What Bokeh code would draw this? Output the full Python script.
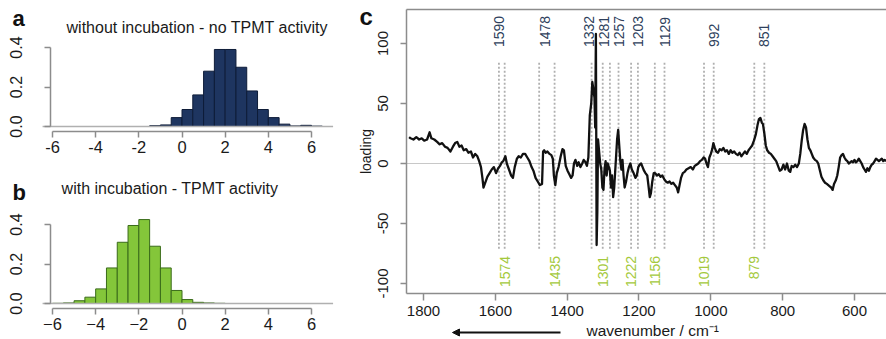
import math
from bokeh.plotting import figure
from bokeh.models import (Range1d, Arrow, NormalHead, LinearAxis,
                          FixedTicker, ColumnDataSource, NumeralTickFormatter)
from bokeh.layouts import row, column
from bokeh.embed import file_html
from bokeh.resources import INLINE
from bokeh.core.properties import value

FONT = "Liberation Sans"

# ---------------- data ----------------
hist_ticks = [-6, -4, -2, 0, 2, 4, 6]
a_edges = [-1.5, -1.0, -0.5, 0.0, 0.5, 1.0, 1.5, 2.0, 2.5, 3.0, 3.5, 4.0, 4.5, 5.0, 5.5, 6.0, 6.5]
a_density = [0.004, 0.008, 0.045, 0.086, 0.16, 0.28, 0.39, 0.39, 0.30, 0.18, 0.086, 0.045, 0.012, 0.003, 0.006, 0.002]
b_edges = [-6.0, -5.5, -5.0, -4.5, -4.0, -3.5, -3.0, -2.5, -2.0, -1.5, -1.0, -0.5, 0.0, 0.5, 1.0, 1.5, 2.0]
b_density = [0.001, 0.003, 0.014, 0.032, 0.074, 0.18, 0.31, 0.395, 0.425, 0.29, 0.18, 0.066, 0.02, 0.006, 0.003, 0.001]
dens_ticks = [0.0, 0.2, 0.4]

wavenumber = [1840, 1836, 1828, 1820, 1812, 1805, 1798, 1790, 1783, 1778, 1770, 1762, 1755, 1748, 1740,
              1733, 1725, 1718, 1712, 1706, 1700, 1694, 1688, 1681, 1675, 1668, 1662, 1656, 1650, 1645,
              1640, 1636, 1633, 1628, 1622, 1616, 1610, 1604, 1598, 1592, 1587, 1582, 1578, 1572, 1568,
              1562, 1556, 1551, 1546, 1540, 1535, 1529, 1523, 1517, 1511, 1505, 1499, 1494, 1488, 1482,
              1476, 1470, 1467, 1464, 1460, 1455, 1449, 1444, 1440, 1437, 1433, 1429, 1424, 1418, 1413,
              1409, 1404, 1399, 1394, 1389, 1385, 1381, 1377, 1372, 1368, 1363, 1358, 1354, 1349, 1345,
              1341, 1337, 1333, 1330, 1327, 1324, 1322, 1320, 1318, 1316, 1314, 1311, 1308, 1305, 1302,
              1299, 1296, 1293, 1290, 1287, 1284, 1281, 1278, 1275, 1272, 1269, 1265, 1261, 1258, 1255,
              1252, 1249, 1246, 1243, 1240, 1236, 1232, 1228, 1224, 1220, 1215, 1210, 1206, 1202, 1198,
              1194, 1190, 1186, 1182, 1177, 1173, 1170, 1167, 1163, 1159, 1155, 1150, 1145, 1140, 1135,
              1130, 1125, 1120, 1115, 1110, 1105, 1100, 1095, 1091, 1087, 1083, 1078, 1073, 1068, 1062,
              1056, 1050, 1045, 1040, 1035, 1030, 1025, 1020, 1016, 1012, 1008, 1004, 1000, 996, 993,
              989, 985, 980, 975, 970, 965, 960, 955, 950, 945, 940, 935, 930, 925, 920,
              915, 910, 905, 900, 895, 890, 885, 880, 875, 870, 866, 862, 858, 855, 851,
              847, 843, 838, 833, 828, 823, 818, 813, 808, 803, 798, 793, 788, 783, 779,
              775, 770, 765, 760, 755, 751, 747, 743, 739, 735, 731, 727, 723, 719, 715,
              710, 705, 701, 697, 692, 687, 682, 677, 673, 669, 665, 661, 657, 652, 648,
              644, 640, 636, 632, 628, 624, 620, 616, 612, 608, 604, 600, 596, 592, 588,
              584, 580, 576, 572, 568, 564, 560, 556, 552, 548, 544, 540, 536, 532, 528,
              524, 520, 516, 512]
loading = [22, 21, 20, 22, 20, 21, 19, 20, 26, 21, 20, 18, 16, 17, 14,
           13, 10, 14, 17, 18, 14, 15, 11, 12, 9, 10, 5, 8, 6, 2,
           -3, -12, -20, -16, -11, -8, -5, -3, -8, -4, -2, 1, 2, 6, 0,
           -5, -10, -12, -3, 4, 6, 5, 8, 8, 5, 2, -3, -6, -12, -15,
           -18, -17, 10, 11, 9, 10, 8, 7, 4, -10, -18, -8, -3, 6, 12,
           11, -2, -6, -9, -12, -10, 0, 3, -2, 1, -3, 0, 3, 1, -2,
           5, 40, 50, 68, 62, 55, 30, 108, -68, -40, 20, 10, 0, -5, -20,
           -22, -5, 2, -10, 0, -3, -6, -20, -10, -28, -20, 0, 20, 28, 15,
           2, -5, 3, -10, -20, -15, -8, -3, 0, -5, -8, -12, -10, -3, -1,
           0, -3, -6, -8, -10, -20, -28, -25, -15, -8, -8, -10, -9, -11, -10,
           -13, -15, -16, -15, -17, -16, -18, -20, -24, -18, -12, -8, -7, -5, -4,
           -3, -5, -2, -1, 0, 2, 3, 5, 4, 0, -3, 5, 8, 12, 17,
           13, 10, 9, 12, 11, 13, 10, 11, 8, 11, 9, 10, 8, 7, 9,
           6, 8, 10, 8, 11, 13, 15, 19, 24, 32, 37, 38, 34, 33, 25,
           15, 11, 9, 8, 6, 4, 2, -2, -6, -5, -1, -5, 0, -6, -7,
           -2, -3, -1, -3, 0, 8, 19, 28, 33, 30, 20, 13, 11, 8, 5,
           3, 2, 0, -5, -11, -14, -16, -17, -18, -19, -20, -22, -17, -14, -10,
           -3, 5, 7, 8, 5, 3, 2, 0, 1, 2, 1, 3, 1, 2, 4,
           2, 0, -3, -5, -7, -4, -6, -3, -1, 0, 2, 4, 3, 2, 3,
           4, 2, 3, 2]

top_bands = [1590, 1478, 1332, 1281, 1257, 1203, 1129, 992, 851]
bottom_bands = [1574, 1435, 1301, 1222, 1156, 1019, 879]
wn_ticks = [1800, 1600, 1400, 1200, 1000, 800, 600]
loading_ticks = [-100, -50, 0, 50, 100]

# ---------------- layout / style constants ----------------
top_label_dx = [0, 6, -3, -6, 0, 0, 0, 0, 0]   # small pixel nudges to keep labels apart
AXIS_GRAY = "#8c8c8c"
NAVY = "#1e3560"
NAVY_LINE = "#0e1c38"
GREEN = "#84c63a"
GREEN_LINE = "#3a6b1a"
TOP_COL = "#2e3f5c"
BOT_COL = "#a4c93c"
TXT = "#1a1a1a"

H_PPU = 197.5          # pixels per density unit (hist panels)
H_XPPU = 21.58         # pixels per x unit (hist panels)
H_YAXIS_X = -6.09      # y axis position in hist panels
H_BASE = (-6.46, 7.0)  # extent of grey base line


def style_axis(ax, tick_out, standoff, size="15px"):
    ax.axis_line_color = AXIS_GRAY
    ax.axis_line_width = 1.5
    ax.major_tick_line_color = AXIS_GRAY
    ax.major_tick_line_width = 1.5
    ax.major_tick_out = tick_out
    ax.major_tick_in = 0
    ax.minor_tick_line_color = None
    ax.major_label_standoff = standoff
    ax.major_label_text_font = FONT
    ax.major_label_text_font_size = size
    ax.major_label_text_color = TXT


def new_fig(w, h, xr, yr):
    p = figure(width=w, height=h, output_backend="svg", toolbar_location=None,
               x_range=Range1d(*xr), y_range=Range1d(*yr),
               x_axis_location=None, y_axis_location=None,
               min_border_left=0, min_border_right=0, min_border_top=0, min_border_bottom=0)
    p.grid.visible = False
    p.outline_line_color = None
    p.background_fill_color = "white"
    p.border_fill_color = "white"
    return p


def hist_panel(edges, dens, fill, line, title, letter, height, zero_px, title_x, title_y,
               letter_y, hyphen):
    # whole canvas is the frame; axes are drawn at fixed data locations
    p = new_fig(340, height,
                (-6 - 52 / H_XPPU, 6 + 29 / H_XPPU),
                (-(height - zero_px) / H_PPU, zero_px / H_PPU))
    src = ColumnDataSource(dict(left=edges[:-1], right=edges[1:], top=dens))
    p.quad(left="left", right="right", bottom=0, top="top", source=src,
           fill_color=fill, line_color=line, line_width=1)
    p.segment(x0=H_BASE[0], x1=H_BASE[1], y0=0, y1=0, line_color="#b0b0b0", line_width=1.5)

    xa = LinearAxis(ticker=FixedTicker(ticks=hist_ticks), bounds=(-6, 6))
    style_axis(xa, 6, 3, "16.5px")
    if hyphen:
        xa.major_label_overrides = {t: str(t) for t in hist_ticks}
    p.add_layout(xa, "below")
    xa.fixed_location = -5 / H_PPU

    ya = LinearAxis(ticker=FixedTicker(ticks=dens_ticks), bounds=(0, 0.4),
                    formatter=NumeralTickFormatter(format="0.0"))
    style_axis(ya, 6, 23, "16px")
    ya.major_label_orientation = "vertical"
    p.add_layout(ya, "left")
    ya.fixed_location = H_YAXIS_X

    p.text(x=[title_x], y=[title_y], text=[title], text_font=value(FONT),
           text_font_size="16px", text_color=TXT, text_baseline="middle", text_align="left")
    p.text(x=[-7.85], y=[letter_y], text=[letter], text_font=value(FONT),
           text_font_size="22px", text_font_style="bold", text_color="#111111",
           text_baseline="middle", text_align="left")
    return p


pa = hist_panel(a_edges, a_density, NAVY, NAVY_LINE,
                "without incubation - no TPMT activity", "a",
                height=166, zero_px=126, title_x=-5.35, title_y=99 / H_PPU,
                letter_y=108 / H_PPU, hyphen=True)
pb = hist_panel(b_edges, b_density, GREEN, GREEN_LINE,
                "with incubation - TPMT activity", "b",
                height=173, zero_px=137, title_x=-5.58, title_y=115 / H_PPU,
                letter_y=111 / H_PPU, hyphen=False)

# ---------------- panel c ----------------
C_XPPU = 0.35917
C_YPPU = 1.2
X_BOX = (1800 + 17 / C_XPPU, 600 - 32 / C_XPPU)   # frame box (left edge, clipped right edge)
Y_BOX = (-130 / C_YPPU, 154 / C_YPPU)

pc = new_fig(546, 339,
             (1800 + 83 / C_XPPU, 600 - 32 / C_XPPU),
             (-176 / C_YPPU, 163 / C_YPPU))

pc.segment(x0=X_BOX[0], x1=X_BOX[1], y0=0, y1=0, line_color="#c8c8c8", line_width=1.2)

for wn in top_bands + bottom_bands:
    pc.segment(x0=wn, x1=wn, y0=-71, y1=84, line_color="#b0b0b0", line_width=1.8,
               line_dash="2 2")

pc.line(wavenumber, loading, line_color="#111111", line_width=2.3, line_join="round")

top_src = ColumnDataSource(dict(x=top_bands, y=[97] * len(top_bands),
                                t=[str(v) for v in top_bands], dx=top_label_dx))
pc.text(x="x", y="y", text="t", x_offset="dx", source=top_src,
        angle=math.pi / 2, text_align="left", text_baseline="middle",
        text_font=value(FONT), text_font_size="14px", text_color=TOP_COL)
pc.text(x=bottom_bands, y=[-77] * len(bottom_bands), text=[str(v) for v in bottom_bands],
        angle=math.pi / 2, text_align="right", text_baseline="middle",
        text_font=value(FONT), text_font_size="14px", text_color=BOT_COL)

xc = LinearAxis(ticker=FixedTicker(ticks=wn_ticks), bounds=X_BOX)
style_axis(xc, 7, 5)
pc.add_layout(xc, "below")
xc.fixed_location = Y_BOX[0]

tc = LinearAxis(ticker=FixedTicker(ticks=[]), bounds=X_BOX)
style_axis(tc, 0, 0)
tc.major_tick_line_color = None
pc.add_layout(tc, "above")
tc.fixed_location = Y_BOX[1]

yc = LinearAxis(ticker=FixedTicker(ticks=loading_ticks), bounds=Y_BOX)
style_axis(yc, 6, 12)
yc.major_label_orientation = "vertical"
yc.major_label_overrides = {t: str(t) for t in loading_ticks}
yc.axis_label = "loading"
yc.axis_label_standoff = 2
yc.axis_label_text_font = FONT
yc.axis_label_text_font_size = "14px"
yc.axis_label_text_font_style = "normal"
yc.axis_label_text_color = TXT
pc.add_layout(yc, "left")
yc.fixed_location = X_BOX[0]

pc.text(x=[1800 + 64 / C_XPPU], y=[147 / C_YPPU], text=["c"], text_font=value(FONT),
        text_font_size="24px", text_font_style="bold", text_color="#111111",
        text_baseline="middle", text_align="left")
pc.add_layout(Arrow(end=NormalHead(size=7, fill_color="#111111", line_color="#111111"),
                    x_start=1800 - 137 / C_XPPU, x_end=1800 - 29 / C_XPPU,
                    y_start=-169 / C_YPPU, y_end=-169 / C_YPPU,
                    line_color="#111111", line_width=2))
pc.text(x=[1800 - 163 / C_XPPU], y=[-167 / C_YPPU], text=["wavenumber / cm\u207b\u00b9"],
        text_font=value(FONT), text_font_size="15.5px", text_color=TXT,
        text_baseline="middle", text_align="left")

layout = row(column(pa, pb), pc)
open("out.html", "w").write(file_html(layout, INLINE))
